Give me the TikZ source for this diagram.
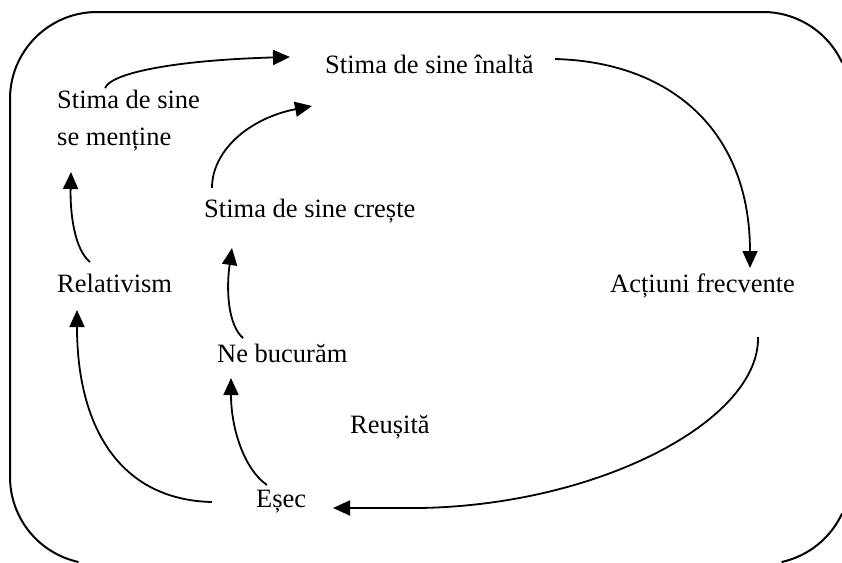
\documentclass[tikz,border=0pt]{standalone}
\usepackage{fontspec}
\setmainfont{Liberation Serif}
\usetikzlibrary{arrows.meta}
\begin{document}
\begin{tikzpicture}[x=1pt,y=-1pt,
  lbl/.style={inner sep=0pt,font=\fontsize{26.5}{37}\selectfont},
  conn/.style={line width=1.8pt,-{Triangle[length=17pt,width=15pt]}},
  frame/.style={line width=2pt}]
\useasboundingbox (0,0) rectangle (842,562);
\draw[frame] (78.5,562) arc[start angle=102.3,end angle=180,radius=87]
  -- (10,99) arc[start angle=180,end angle=270,radius=87]
  -- (763,12) arc[start angle=-90,end angle=-24.8,radius=87];
\draw[frame] (842,513.5) arc[start angle=24.8,end angle=77.7,radius=87];
\node[lbl,anchor=base west] (hi) at (325,73) {Stima de sine înaltă};
\node[lbl,anchor=north west,align=left] (men) at (57,90) {Stima de sine\\se menține};
\node[lbl,anchor=base west] (cre) at (204,217) {Stima de sine crește};
\node[lbl,anchor=base west] (rel) at (57,292) {Relativism};
\node[lbl,anchor=base west] (act) at (610,292) {Acțiuni frecvente};
\node[lbl,anchor=base west] (bu) at (217,362) {Ne bucurăm};
\node[lbl,anchor=base west] (reu) at (350,433) {Reușită};
\node[lbl,anchor=base west] (es) at (256,507) {Eșec};
% connectors
\draw[conn] ([shift={(48,-2)}]men.north west) .. controls (112,72) and (180,60) .. ([shift={(-35,-16)}]hi.base west);
\draw[conn] ([shift={(8,-29)}]cre.base west) .. controls (212,150) and (250,118) .. ([shift={(-13,33)}]hi.base west);
\draw[conn] ([shift={(33,-30)}]rel.base west) .. controls (75,250) and (70,215) .. ([shift={(14,82)}]men.north west);
\draw[conn] ([shift={(26,-24)}]bu.base west) .. controls (228,325) and (226,290) .. ([shift={(28,31)}]cre.base west);
\draw[conn] ([shift={(11,-22)}]es.base west) .. controls (245,470) and (231,430) .. ([shift={(14,16)}]bu.base west);
\draw[conn] ([shift={(-44,-5)}]es.base west) .. controls (122,500) and (77,430) .. ([shift={(20,18)}]rel.base west);
\draw[conn] ([shift={(148,45)}]act.base west) .. controls (760,420) and (600,505) .. (420,508) -- ([shift={(77,1)}]es.base west);
\draw[conn] ([shift={(230,-14)}]hi.base west) .. controls (670,62) and (750,130) .. ([shift={(140,-24)}]act.base west);
\end{tikzpicture}
\end{document}
